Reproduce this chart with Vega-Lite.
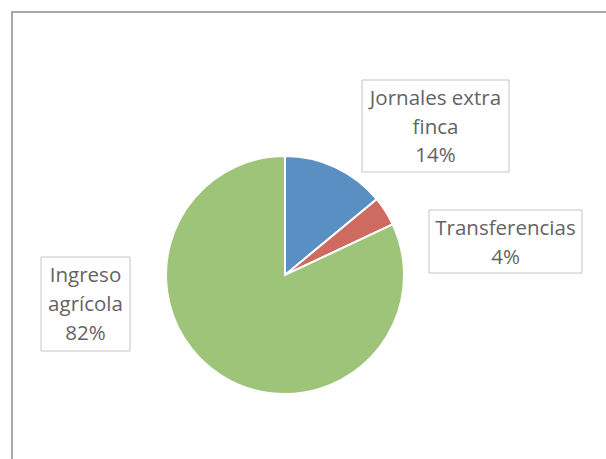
{
  "$schema": "https://vega.github.io/schema/vega-lite/v6.json",
  "width": 600,
  "height": 460,
  "padding": {"left": 12, "top": 12, "right": 0, "bottom": 0},
  "autosize": {"type": "none"},
  "background": "white",
  "config": {"view": {"stroke": "#8c8c8c", "strokeWidth": 1.5}},
  "data": {"values": [
    {"categoria": "Jornales extra finca", "valor": 14, "orden": 1, "lineas": ["Jornales extra", "finca", "14%"]},
    {"categoria": "Transferencias", "valor": 4, "orden": 2, "lineas": ["Transferencias", "4%"]},
    {"categoria": "Ingreso agrícola", "valor": 82, "orden": 3, "lineas": ["Ingreso", "agrícola", "82%"]}
  ]},
  "transform": [
    {"stack": "valor", "groupby": [], "sort": [{"field": "orden", "order": "ascending"}], "as": ["s0", "s1"]}
  ],
  "layer": [
    {
      "mark": {"type": "arc", "radius": 119, "stroke": "white", "strokeWidth": 2, "xOffset": -27, "yOffset": 33},
      "encoding": {
        "theta": {"field": "s0", "type": "quantitative", "scale": {"domain": [0, 100]}},
        "theta2": {"field": "s1"},
        "color": {"field": "categoria", "type": "nominal", "legend": null,
          "scale": {"domain": ["Jornales extra finca", "Transferencias", "Ingreso agrícola"], "range": ["#5A8FC4", "#CF6A61", "#9EC479"]}}
      }
    },
    {
      "transform": [{"filter": "datum.orden == 1"}],
      "layer": [
        {"mark": {"type": "rect", "fill": "white", "stroke": "#c4c4c4", "strokeWidth": 1},
         "encoding": {"x": {"value": 350}, "x2": {"value": 497}, "y": {"value": 68}, "y2": {"value": 160}}},
        {"mark": {"type": "text", "font": "Open Sans", "fontSize": 20.5, "color": "#636363", "lineHeight": 28.5, "align": "center", "baseline": "middle", "radius": 0, "dx": 123.5, "dy": -143},
         "encoding": {"theta": {"field": "s0", "type": "quantitative"}, "text": {"field": "lineas"}}}
      ]
    },
    {
      "transform": [{"filter": "datum.orden == 2"}],
      "layer": [
        {"mark": {"type": "rect", "fill": "white", "stroke": "#c4c4c4", "strokeWidth": 1},
         "encoding": {"x": {"value": 417}, "x2": {"value": 570}, "y": {"value": 198}, "y2": {"value": 261}}},
        {"mark": {"type": "text", "font": "Open Sans", "fontSize": 20.5, "color": "#636363", "lineHeight": 28.5, "align": "center", "baseline": "middle", "radius": 0, "dx": 193.5, "dy": -13},
         "encoding": {"theta": {"field": "s0", "type": "quantitative"}, "text": {"field": "lineas"}}}
      ]
    },
    {
      "transform": [{"filter": "datum.orden == 3"}],
      "layer": [
        {"mark": {"type": "rect", "fill": "white", "stroke": "#c4c4c4", "strokeWidth": 1},
         "encoding": {"x": {"value": 29}, "x2": {"value": 118}, "y": {"value": 245}, "y2": {"value": 339}}},
        {"mark": {"type": "text", "font": "Open Sans", "fontSize": 20.5, "color": "#636363", "lineHeight": 29, "align": "center", "baseline": "middle", "radius": 0, "dx": -226.5, "dy": 34},
         "encoding": {"theta": {"field": "s0", "type": "quantitative"}, "text": {"field": "lineas"}}}
      ]
    }
  ]
}
